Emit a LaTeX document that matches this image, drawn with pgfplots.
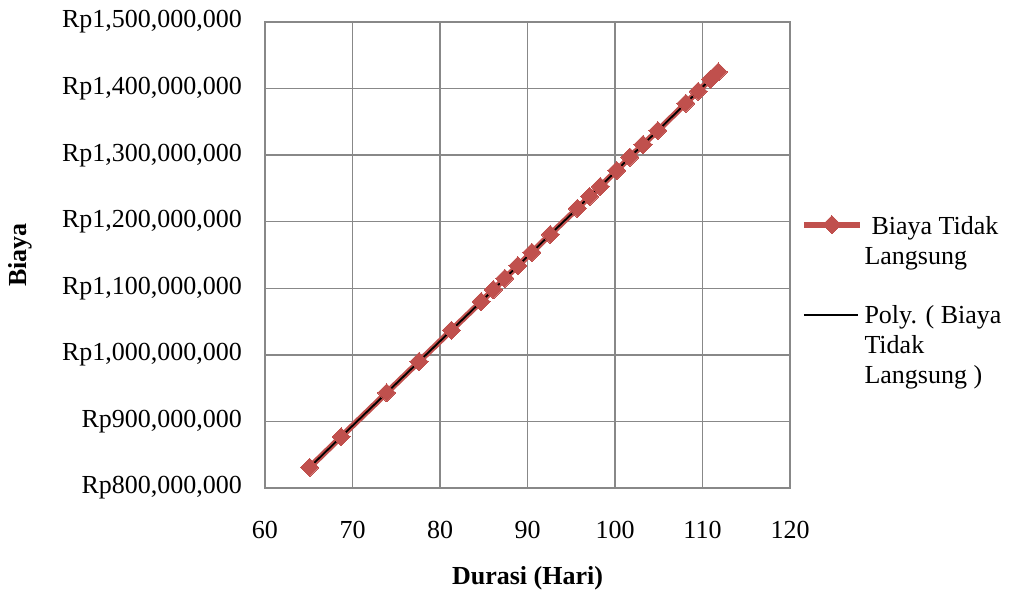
\documentclass[border=0pt]{standalone}
\usepackage{fontspec}
\setmainfont{Liberation Serif}
\usepackage{pgfplots}
\pgfplotsset{compat=1.18}
\definecolor{serred}{HTML}{C0504D}
\definecolor{gridgray}{HTML}{888888}
\begin{document}
\begin{tikzpicture}[font=\fontsize{13}{15}\selectfont]
\useasboundingbox (-132.5pt,-53pt) rectangle (372.5pt,244pt);
\begin{axis}[
  scale only axis,
  width=262.5pt, height=233pt,
  xmin=60, xmax=120, ymin=800, ymax=1500,
  xtick={60,70,...,120},
  ytick={800,900,...,1500},
  yticklabels={{Rp800,000,000},{Rp900,000,000},{Rp1,000,000,000},{Rp1,100,000,000},{Rp1,200,000,000},{Rp1,300,000,000},{Rp1,400,000,000},{Rp1,500,000,000}},
  /pgf/number format/assume math mode=true,
  grid=major,
  major grid style={gridgray, line width=0.75pt},
  axis line style={gridgray, line width=0.75pt},
  major tick length=0pt,
  xticklabel style={anchor=center, yshift=-21pt},
  yticklabel style={anchor=east, xshift=-8pt},
  xlabel={\textbf{Durasi (Hari)}},
  ylabel={\textbf{Biaya}},
  xlabel style={at={(axis description cs:0.5,-0.193)}, anchor=center},
  ylabel style={at={(axis description cs:-0.4667,0.5)}, anchor=center},
  legend style={draw=none, fill=none, at={(axis description cs:1.02,0.40)}, anchor=west, inner sep=0pt, row sep=15pt,
    cells={anchor=base west, align=left}, nodes={inner xsep=0.8pt}},
]
\addplot[serred, line width=3pt, mark=square*, mark size=3.2pt, mark options={fill=serred, draw=serred, line width=0pt, rotate=45},
  legend image code/.code={\draw[mark repeat=2,mark phase=2] plot coordinates {(0pt,20pt) (14pt,20pt) (28pt,20pt)};}]
coordinates {
(65.1,831) (68.7,877) (73.9,943) (77.6,990) (81.3,1037) (84.7,1080) (86.1,1098) (87.4,1115)
(88.9,1134) (90.5,1154) (92.6,1181) (95.7,1220) (97.1,1238) (98.3,1253) (100.2,1277) (101.7,1297)
(103.2,1316) (104.9,1337) (108.1,1378) (109.5,1396) (110.9,1414) (111.8,1425)
};
\addlegendentry{\hspace*{3.5pt}Biaya Tidak\\Langsung}
\addplot[black, line width=0.9pt, no marks,
  legend image code/.code={\draw plot coordinates {(0pt,34.5pt) (27pt,34.5pt)};}]
coordinates {
(65.1,831) (68.7,877) (73.9,943) (77.6,990) (81.3,1037) (84.7,1080) (86.1,1098) (87.4,1115)
(88.9,1134) (90.5,1154) (92.6,1181) (95.7,1220) (97.1,1238) (98.3,1253) (100.2,1277) (101.7,1297)
(103.2,1316) (104.9,1337) (108.1,1378) (109.5,1396) (110.9,1414) (111.8,1425)
};
\addlegendentry{Poly. ( Biaya\\Tidak\\Langsung )}
\end{axis}
\end{tikzpicture}
\end{document}
